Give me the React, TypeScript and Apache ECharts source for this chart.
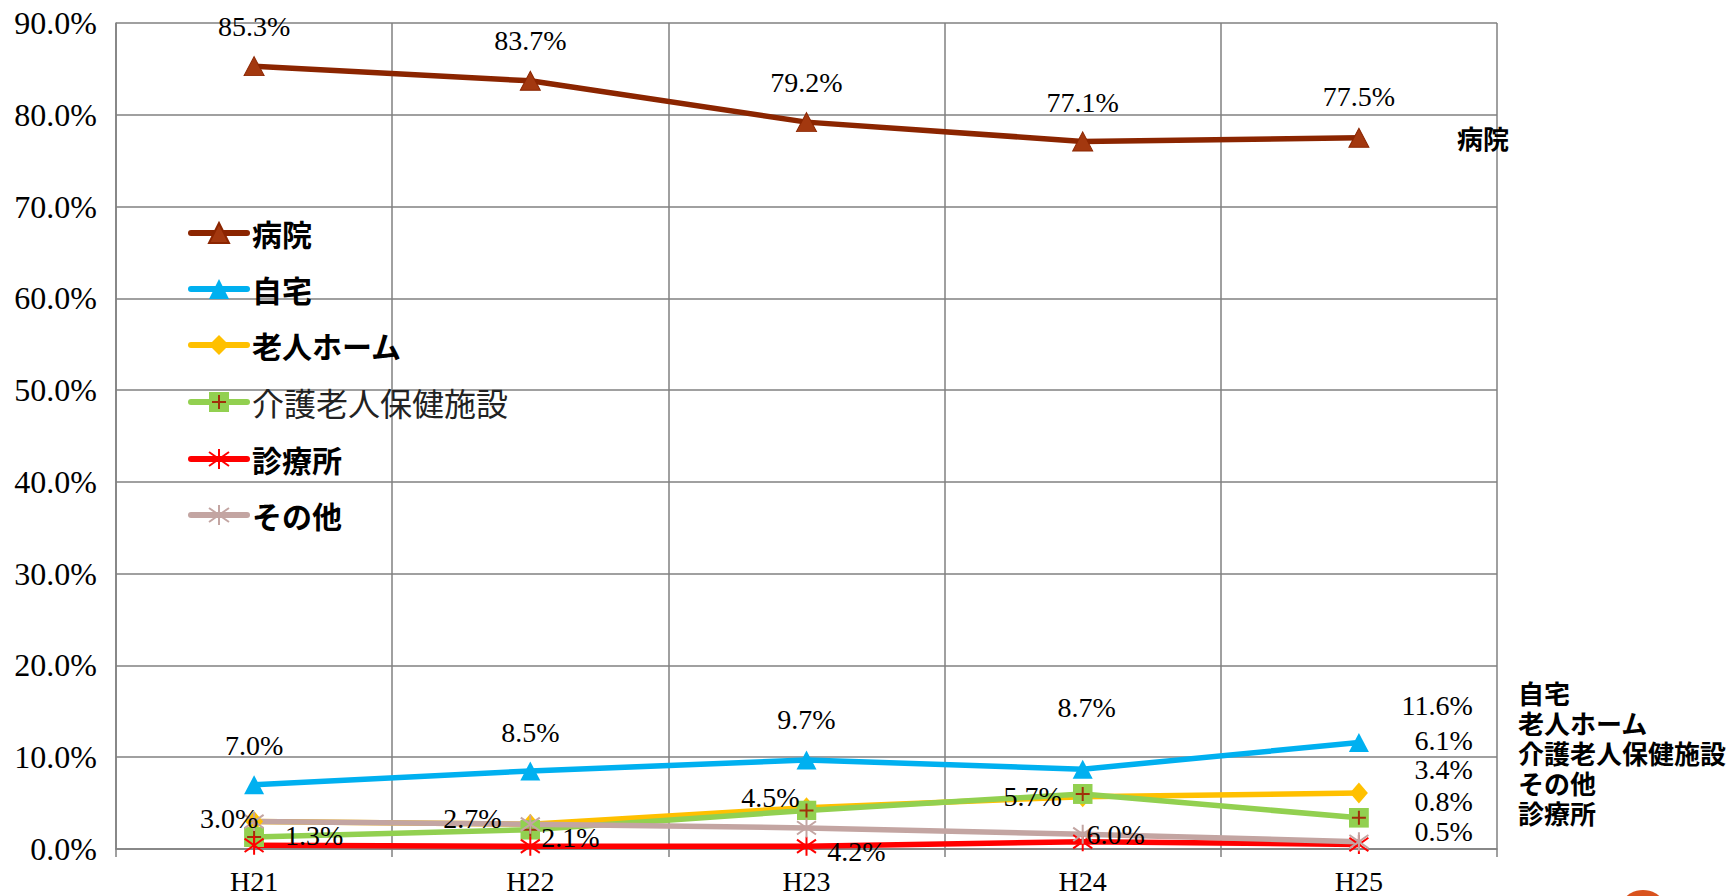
import React, { useEffect, useRef } from 'react';
import * as echarts from 'echarts';

const categories = ['H21', 'H22', 'H23', 'H24', 'H25'];
const seriesNames = ['病院', '自宅', '老人ホーム', '介護老人保健施設', '診療所', 'その他'];
const hospital = [85.3, 83.7, 79.2, 77.1, 77.5];
const home = [7.0, 8.5, 9.7, 8.7, 11.6];
const nursingHome = [3.0, 2.7, 4.5, 5.7, 6.1];
const careFacility = [1.3, 2.1, 4.2, 6.0, 3.4];
const clinic = [0.4, 0.3, 0.3, 0.8, 0.5];
const other = [3.0, 2.7, 2.3, 1.6, 0.8];
const yMin = 0;
const yMax = 90;
const yInterval = 10;
const sideNames = ['自宅', '老人ホーム', '介護老人保健施設', 'その他', '診療所'];

type LabelPos = [number, number, string] | null;
const C: LabelPos = [0, -40, 'center'];
const hospitalLabels: LabelPos[] = [C, C, C, [0, -39, 'center'], [0, -41, 'center']];
const homeLabels: LabelPos[] = [[0, -39, 'center'], [0, -38, 'center'], [0, -40, 'center'], [4, -62, 'center'], [114, -37, 'right']];
const nursingLabels: LabelPos[] = [[-25, -3, 'center'], [-58, -6, 'center'], [-36, -10, 'center'], [-50, 0, 'center'], [114, -53, 'right']];
const careLabels: LabelPos[] = [[60, -2, 'center'], [40, 8, 'center'], [50, 41, 'center'], [33, 41, 'center'], [114, -48, 'right']];
const clinicLabels: LabelPos[] = [null, null, null, null, [114, -13, 'right']];
const otherLabels: LabelPos[] = [null, null, null, null, [114, -40, 'right']];

const SERIF = '"Liberation Serif", "Times New Roman", serif';
const JP = '"Noto Sans CJK JP", "Noto Sans", sans-serif';

const greenSvg =
  "<svg xmlns='http://www.w3.org/2000/svg' width='20' height='20'><rect width='20' height='20' fill='#92D050'/><path d='M10 3V17M3 10H17' stroke='#A0300A' stroke-width='2'/></svg>";
const greenSymbol = 'image://data:image/svg+xml;utf8,' + encodeURIComponent(greenSvg);
const asterisk = 'path://M10,0 L10,20 M1,3 L19,17 M1,17 L19,3';

function buildData(values: number[], labels: LabelPos[]) {
  return values.map((v, i) => {
    const l = labels[i];
    if (!l) return { value: v, label: { show: false } };
    return {
      value: v,
      label: {
        show: true,
        position: 'inside',
        offset: [l[0], l[1]],
        align: l[2],
        verticalAlign: 'middle',
        formatter: (p: any) => Number(p.value).toFixed(1) + '%',
        fontFamily: SERIF,
        fontSize: 28,
        color: '#000',
      },
    };
  });
}

export default function App() {
  const ref = useRef<HTMLDivElement>(null);
  useEffect(() => {
    if (!ref.current) return;
    const chart = echarts.init(ref.current, undefined, { renderer: 'svg' });
    const lineSeries = (
      name: string,
      values: number[],
      labels: LabelPos[],
      lineColor: string,
      symbol: string,
      symbolSize: number | number[],
      itemStyle: any
    ) => ({
      name,
      type: 'line',
      data: buildData(values, labels),
      symbol,
      symbolSize,
      showAllSymbol: true,
      lineStyle: { color: lineColor, width: 5.5 },
      itemStyle,
    });
    const option: any = {
      animation: false,
      backgroundColor: '#fff',
      textStyle: { fontFamily: SERIF },
      grid: { left: 116, right: 233, top: 23, bottom: 47, containLabel: false },
      legend: {
        orient: 'vertical',
        left: 183,
        top: 213,
        itemWidth: 56,
        itemHeight: 25,
        itemGap: 26,
        lineStyle: { width: 6, cap: 'round' },
        textStyle: { fontFamily: JP, fontSize: 30, fontWeight: 'bold', color: '#000' },
        data: seriesNames.map((n) =>
          n === '介護老人保健施設'
            ? { name: n, textStyle: { fontWeight: 'normal', color: '#222', fontSize: 32 } }
            : { name: n }
        ),
      },
      xAxis: {
        type: 'category',
        data: categories,
        boundaryGap: true,
        axisLine: { show: true, lineStyle: { color: '#808080', width: 1.5 } },
        axisTick: { show: true, length: 8, lineStyle: { color: '#808080', width: 1.5 } },
        splitLine: { show: true, lineStyle: { color: '#808080', width: 1.5 } },
        axisLabel: { fontFamily: SERIF, fontSize: 28, color: '#000', margin: 18 },
      },
      yAxis: {
        type: 'value',
        min: yMin,
        max: yMax,
        interval: yInterval,
        axisLine: { show: true, lineStyle: { color: '#808080', width: 1.5 } },
        axisTick: { show: false },
        splitLine: { show: true, lineStyle: { color: '#808080', width: 1.5 } },
        axisLabel: {
          fontFamily: SERIF,
          fontSize: 32,
          color: '#000',
          margin: 19,
          formatter: (v: number) => v.toFixed(1) + '%',
        },
      },
      series: [
        lineSeries(seriesNames[0], hospital, hospitalLabels, '#8B2500', 'triangle', [20, 19], {
          color: '#A3380F',
          borderColor: '#8B2500',
          borderWidth: 1,
        }),
        lineSeries(seriesNames[1], home, homeLabels, '#00B0F0', 'triangle', [20, 19], { color: '#00B0F0' }),
        lineSeries(seriesNames[2], nursingHome, nursingLabels, '#FFC000', 'diamond', [18, 21], { color: '#FFC000' }),
        lineSeries(seriesNames[3], careFacility, careLabels, '#92D050', greenSymbol, 20, { color: '#92D050' }),
        lineSeries(seriesNames[4], clinic, clinicLabels, '#FF0000', asterisk, 19, {
          color: '#FF0000',
          borderColor: '#FF0000',
          borderWidth: 2,
        }),
        lineSeries(seriesNames[5], other, otherLabels, '#C3A5A2', asterisk, 19, {
          color: '#C3A5A2',
          borderColor: '#C3A5A2',
          borderWidth: 2,
        }),
      ],
      graphic: [
        {
          type: 'text',
          left: 1457,
          top: 123,
          z: 100,
          style: { text: '病院', fontFamily: JP, fontSize: 26, lineHeight: 28, fontWeight: 'bold', fill: '#000' },
        },
        ...sideNames.map((n, i) => ({
          type: 'text',
          left: 1518,
          top: 678 + i * 30,
          z: 100,
          style: { text: n, fontFamily: JP, fontSize: 26, lineHeight: 28, fontWeight: 'bold', fill: '#000' },
        })),
        {
          type: 'circle',
          shape: { cx: 1643, cy: 915, r: 25 },
          style: { fill: '#D9531E' },
        },
      ],
    };
    chart.setOption(option);
    return () => chart.dispose();
  }, []);
  return (
    <div
      ref={ref}
      style={{ position: 'fixed', left: 0, top: 0, width: 1730, height: 896, background: '#fff' }}
    />
  );
}
